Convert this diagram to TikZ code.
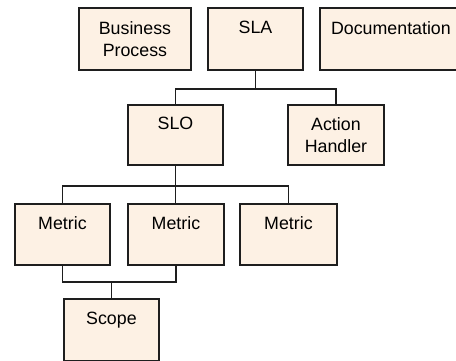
\documentclass[tikz,border=0pt]{standalone}
\usepackage{fontspec}
\setmainfont{Liberation Sans}
\usepackage{xcolor}
\usepackage{tikz}
\usetikzlibrary{positioning,calc}
\definecolor{boxfill}{HTML}{FDF1E4}
\definecolor{boxline}{HTML}{1E1E1E}

\begin{document}
\begin{tikzpicture}[x=1pt, y=-1pt,
    box/.style={draw=boxline, line width=1.9pt, fill=boxfill, rectangle, anchor=north west,
        minimum width=95pt, minimum height=61pt, inner sep=0pt, align=center,
        font=\fontsize{17.8}{22.6}\selectfont,
        execute at begin node={\rule{0pt}{20.5pt}}},
    link/.style={draw=boxline, line width=1.9pt}]
    \useasboundingbox (0,0) rectangle (456,360);
    \clip (0,0) rectangle (456,360);
    % Top row
    \node[box, minimum width=112pt, minimum height=62pt] (bp) at (78,7) {Business\\Process};
    \node[box, minimum height=62pt] (sla) at (207,7) {SLA\\~};
    \node[box, minimum width=142pt, minimum height=62pt] (doc) at (319,7) {Documentation\\~};
    % Objectives and handlers
    \node[box, minimum height=60pt] (slo) at (127,104) {SLO\\~};
    \node[box, minimum width=96pt, minimum height=60pt] (ah) at (287,104) {Action\\Handler};
    % Metrics
    \node[box] (m1) at (14,203) {Metric\\~};
    \node[box, minimum width=96pt] (m2) at (127,203) {Metric\\~};
    \node[box, minimum width=97pt] (m3) at (239,203) {Metric\\~};
    % Scope
    \node[box, minimum height=62pt] (scope) at (63,298) {Scope\\~};

    % SLA -> SLO, Action Handler
    \draw[link] (sla.south) -- ++(0,18) coordinate (j1);
    \draw[link] (j1) -| (slo.north);
    \draw[link] (j1) -| (ah.north);
    % SLO -> metrics
    \draw[link] (slo.south) -- ++(0,20) coordinate (j2);
    \draw[link] (j2) -| (m1.north);
    \draw[link] (j2) -| (m3.north);
    \draw[link] (j2) -- (j2 |- m2.north);
    % metrics -> Scope
    \draw[link] (m1.south) -- ++(0,16) coordinate (j3) -| (m2.south);
    \draw[link] (scope.north) -- (scope.north |- j3);
\end{tikzpicture}
\end{document}
